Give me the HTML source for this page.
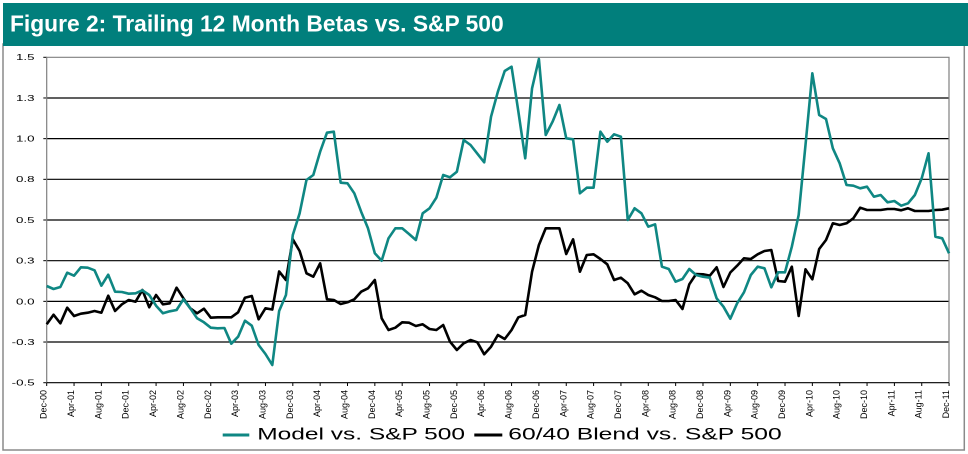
<!DOCTYPE html>
<html>
<head>
<meta charset="utf-8">
<style>
html,body{margin:0;padding:0;background:#fff;}
body{width:968px;height:454px;overflow:hidden;font-family:"Liberation Sans",Arial,sans-serif;}
svg{display:block;}
</style>
</head>
<body>
<svg width="968" height="454" viewBox="0 0 968 454" xmlns="http://www.w3.org/2000/svg" font-family="Liberation Sans, Arial, sans-serif">
  <!-- outer border -->
  <rect x="3" y="44" width="961.3" height="406" fill="#fff" stroke="#8a8a8a" stroke-width="1.5"/>
  <!-- title bar -->
  <rect x="3" y="3" width="965" height="43" fill="#017f7c"/>
  <text x="10" y="31.7" font-size="22.8" font-weight="bold" fill="#fff">Figure 2: Trailing 12 Month Betas vs. S&amp;P 500</text>

  <!-- gridlines -->
  <g stroke="#000" stroke-width="1.2">
    <line x1="46.7" y1="97.98" x2="949" y2="97.98"/>
    <line x1="46.7" y1="138.65" x2="949" y2="138.65"/>
    <line x1="46.7" y1="179.33" x2="949" y2="179.33"/>
    <line x1="46.7" y1="220" x2="949" y2="220"/>
    <line x1="46.7" y1="260.68" x2="949" y2="260.68"/>
    <line x1="46.7" y1="301.35" x2="949" y2="301.35"/>
    <line x1="46.7" y1="342.03" x2="949" y2="342.03"/>
  </g>
  <!-- y ticks -->
  <g stroke="#000" stroke-width="1">
    <line x1="43.3" y1="57.3" x2="46.7" y2="57.3"/>
    <line x1="43.3" y1="97.98" x2="46.7" y2="97.98"/>
    <line x1="43.3" y1="138.65" x2="46.7" y2="138.65"/>
    <line x1="43.3" y1="179.33" x2="46.7" y2="179.33"/>
    <line x1="43.3" y1="220" x2="46.7" y2="220"/>
    <line x1="43.3" y1="260.68" x2="46.7" y2="260.68"/>
    <line x1="43.3" y1="301.35" x2="46.7" y2="301.35"/>
    <line x1="43.3" y1="342.03" x2="46.7" y2="342.03"/>
    <line x1="43.3" y1="382.7" x2="46.7" y2="382.7"/>
  </g>
  <!-- frame -->
  <polyline points="46.7,382.7 46.7,57.3 949,57.3 949,382.7" fill="none" stroke="#808080" stroke-width="1.2"/>
  <line x1="46.7" y1="382.7" x2="949" y2="382.7" stroke="#000" stroke-width="1.2"/>
  <!-- x ticks -->
  <path stroke="#000" stroke-width="1" d="M46.7 382.7V386 M74.05 382.7V386 M101.39 382.7V386 M128.74 382.7V386 M156.08 382.7V386 M183.43 382.7V386 M210.77 382.7V386 M238.12 382.7V386 M265.46 382.7V386 M292.81 382.7V386 M320.15 382.7V386 M347.5 382.7V386 M374.84 382.7V386 M402.19 382.7V386 M429.53 382.7V386 M456.88 382.7V386 M484.22 382.7V386 M511.57 382.7V386 M538.91 382.7V386 M566.26 382.7V386 M593.6 382.7V386 M620.95 382.7V386 M648.29 382.7V386 M675.64 382.7V386 M702.98 382.7V386 M730.33 382.7V386 M757.67 382.7V386 M785.02 382.7V386 M812.36 382.7V386 M839.71 382.7V386 M867.05 382.7V386 M894.4 382.7V386 M921.74 382.7V386 M949.09 382.7V386"/>

  <!-- y labels -->
  <g font-size="8" fill="#000">
    <text x="16" y="60.2" textLength="18.5" lengthAdjust="spacingAndGlyphs">1.5</text>
    <text x="16" y="100.9" textLength="18.5" lengthAdjust="spacingAndGlyphs">1.3</text>
    <text x="16" y="141.6" textLength="18.5" lengthAdjust="spacingAndGlyphs">1.0</text>
    <text x="16" y="182.2" textLength="18.5" lengthAdjust="spacingAndGlyphs">0.8</text>
    <text x="16" y="222.9" textLength="18.5" lengthAdjust="spacingAndGlyphs">0.5</text>
    <text x="16" y="263.6" textLength="18.5" lengthAdjust="spacingAndGlyphs">0.3</text>
    <text x="16" y="304.3" textLength="18.5" lengthAdjust="spacingAndGlyphs">0.0</text>
    <text x="11.7" y="344.9" textLength="23" lengthAdjust="spacingAndGlyphs">-0.3</text>
    <text x="11.7" y="385.6" textLength="23" lengthAdjust="spacingAndGlyphs">-0.5</text>
  </g>

  <!-- x labels -->
  <g font-size="9" fill="#000" text-anchor="end">
    <text transform="translate(46.7,390) rotate(-90)">Dec-00</text>
    <text transform="translate(74.05,390) rotate(-90)">Apr-01</text>
    <text transform="translate(101.39,390) rotate(-90)">Aug-01</text>
    <text transform="translate(128.74,390) rotate(-90)">Dec-01</text>
    <text transform="translate(156.08,390) rotate(-90)">Apr-02</text>
    <text transform="translate(183.43,390) rotate(-90)">Aug-02</text>
    <text transform="translate(210.77,390) rotate(-90)">Dec-02</text>
    <text transform="translate(238.12,390) rotate(-90)">Apr-03</text>
    <text transform="translate(265.46,390) rotate(-90)">Aug-03</text>
    <text transform="translate(292.81,390) rotate(-90)">Dec-03</text>
    <text transform="translate(320.15,390) rotate(-90)">Apr-04</text>
    <text transform="translate(347.5,390) rotate(-90)">Aug-04</text>
    <text transform="translate(374.84,390) rotate(-90)">Dec-04</text>
    <text transform="translate(402.19,390) rotate(-90)">Apr-05</text>
    <text transform="translate(429.53,390) rotate(-90)">Aug-05</text>
    <text transform="translate(456.88,390) rotate(-90)">Dec-05</text>
    <text transform="translate(484.22,390) rotate(-90)">Apr-06</text>
    <text transform="translate(511.57,390) rotate(-90)">Aug-06</text>
    <text transform="translate(538.91,390) rotate(-90)">Dec-06</text>
    <text transform="translate(566.26,390) rotate(-90)">Apr-07</text>
    <text transform="translate(593.6,390) rotate(-90)">Aug-07</text>
    <text transform="translate(620.95,390) rotate(-90)">Dec-07</text>
    <text transform="translate(648.29,390) rotate(-90)">Apr-08</text>
    <text transform="translate(675.64,390) rotate(-90)">Aug-08</text>
    <text transform="translate(702.98,390) rotate(-90)">Dec-08</text>
    <text transform="translate(730.33,390) rotate(-90)">Apr-09</text>
    <text transform="translate(757.67,390) rotate(-90)">Aug-09</text>
    <text transform="translate(785.02,390) rotate(-90)">Dec-09</text>
    <text transform="translate(812.36,390) rotate(-90)">Apr-10</text>
    <text transform="translate(839.71,390) rotate(-90)">Aug-10</text>
    <text transform="translate(867.05,390) rotate(-90)">Dec-10</text>
    <text transform="translate(894.4,390) rotate(-90)">Apr-11</text>
    <text transform="translate(921.74,390) rotate(-90)">Aug-11</text>
    <text transform="translate(949.09,390) rotate(-90)">Dec-11</text>
  </g>

  <!-- series -->
  <g transform="translate(46.7,0) scale(6.836,1)">
    <polyline fill="none" stroke="#000" stroke-width="2.6" vector-effect="non-scaling-stroke" stroke-linejoin="round" points="0,324.3 1,314.7 2,323.3 3,307.7 4,316 5,313.7 6,312.7 7,311 8,312.7 9,295.7 10,311 11,304.3 12,300 13,301.7 14,290 15,307.3 16,295 17,304.3 18,303.3 19,287.7 20,298.3 21,308.3 22,313.3 23,308.7 24,317.7 25,317.3 26,317.3 27,317.3 28,312.3 29,297.7 30,296 31,319.3 32,308.3 33,309.5 34,271.5 35,280 36,239.3 37,251 38,273.3 39,276.7 40,263.3 41,299.3 42,300 43,304 44,302.3 45,299.3 46,291.7 47,288.3 48,280 49,318.3 50,330 51,327.7 52,322.3 53,322.7 54,326 55,324.3 56,329 57,330 58,325 59,341.7 60,350 61,343.3 62,340 63,342.3 64,354.3 65,346.7 66,335 67,339 68,330 69,317.3 70,315 71,271.7 72,245 73,228.3 74,228.3 75,228.3 76,254 77,239.3 78,271.7 79,255 80,254.3 81,259 82,264.3 83,280 84,277.7 85,283.3 86,294.3 87,290.7 88,295 89,297.3 90,301 91,301 92,300 93,309 94,284.3 95,274 96,274.3 97,275.7 98,267.3 99,287 100,272.5 101,265.7 102,258.3 103,259 104,254.3 105,251 106,250 107,281 108,281.7 109,266.7 110,316 111,269.3 112,279.3 113,249 114,240 115,223.3 116,225 117,223.3 118,218.3 119,207.7 120,210 121,210 122,210 123,209 124,209 125,210.3 126,208.3 127,211 128,211 129,211 130,210 131,209.7 132,208.3"/>
    <polyline fill="none" stroke="#0f8783" stroke-width="2.6" vector-effect="non-scaling-stroke" stroke-linejoin="round" points="0,286 1,289 2,287 3,272.7 4,275.7 5,267.3 6,267.7 7,270.3 8,285.7 9,274.7 10,291.7 11,292 12,293.7 13,293.3 14,290.3 15,295 16,305.7 17,313.3 18,311.3 19,310 20,299.3 21,308.3 22,318.3 23,322.3 24,327.7 25,328.3 26,328 27,343.7 28,336.7 29,320.7 30,325.7 31,345 32,354 33,365 34,311 35,295 36,235 37,213.3 38,180 39,175 40,151.7 41,132.7 42,131.7 43,182.7 44,183.3 45,193.3 46,211.7 47,228.3 48,253.3 49,260.7 50,238.3 51,228.3 52,228.3 53,234 54,240 55,213.3 56,208.3 57,197.7 58,175 59,177.3 60,171.7 61,140 62,145 63,153.7 64,162.3 65,116.7 66,91.7 67,71 68,66.7 69,111.7 70,158.3 71,88.3 72,59 73,135 74,121.7 75,105 76,138.3 77,139.3 78,193.3 79,187.7 80,187.7 81,131.7 82,141.7 83,134.3 84,136.7 85,220 86,208.3 87,213.3 88,226.7 89,224.3 90,266.7 91,269 92,281.7 93,279 94,269 95,275 96,276.7 97,277.7 98,298.3 99,306.7 100,318.7 101,303.3 102,292.3 103,275 104,266.7 105,268.3 106,287.3 107,272.3 108,272.3 109,246.7 110,215 111,145 112,73.3 113,115 114,119 115,148.3 116,163.3 117,185 118,185.7 119,188.3 120,186.7 121,196.7 122,195 123,202.3 124,201 125,205.7 126,203.3 127,195 128,178.3 129,153.3 130,236.7 131,238.3 132,253.3"/>
  </g>

  <!-- legend -->
  <line x1="222.7" y1="435" x2="249.3" y2="435" stroke="#0f8783" stroke-width="3"/>
  <text x="257.3" y="439.3" font-size="16.8" textLength="207.7" lengthAdjust="spacingAndGlyphs" fill="#000">Model vs. S&amp;P 500</text>
  <line x1="474.3" y1="435" x2="502.3" y2="435" stroke="#000" stroke-width="3"/>
  <text x="508.3" y="439.3" font-size="16.8" textLength="273.4" lengthAdjust="spacingAndGlyphs" fill="#000">60/40 Blend vs. S&amp;P 500</text>
</svg>
</body>
</html>
